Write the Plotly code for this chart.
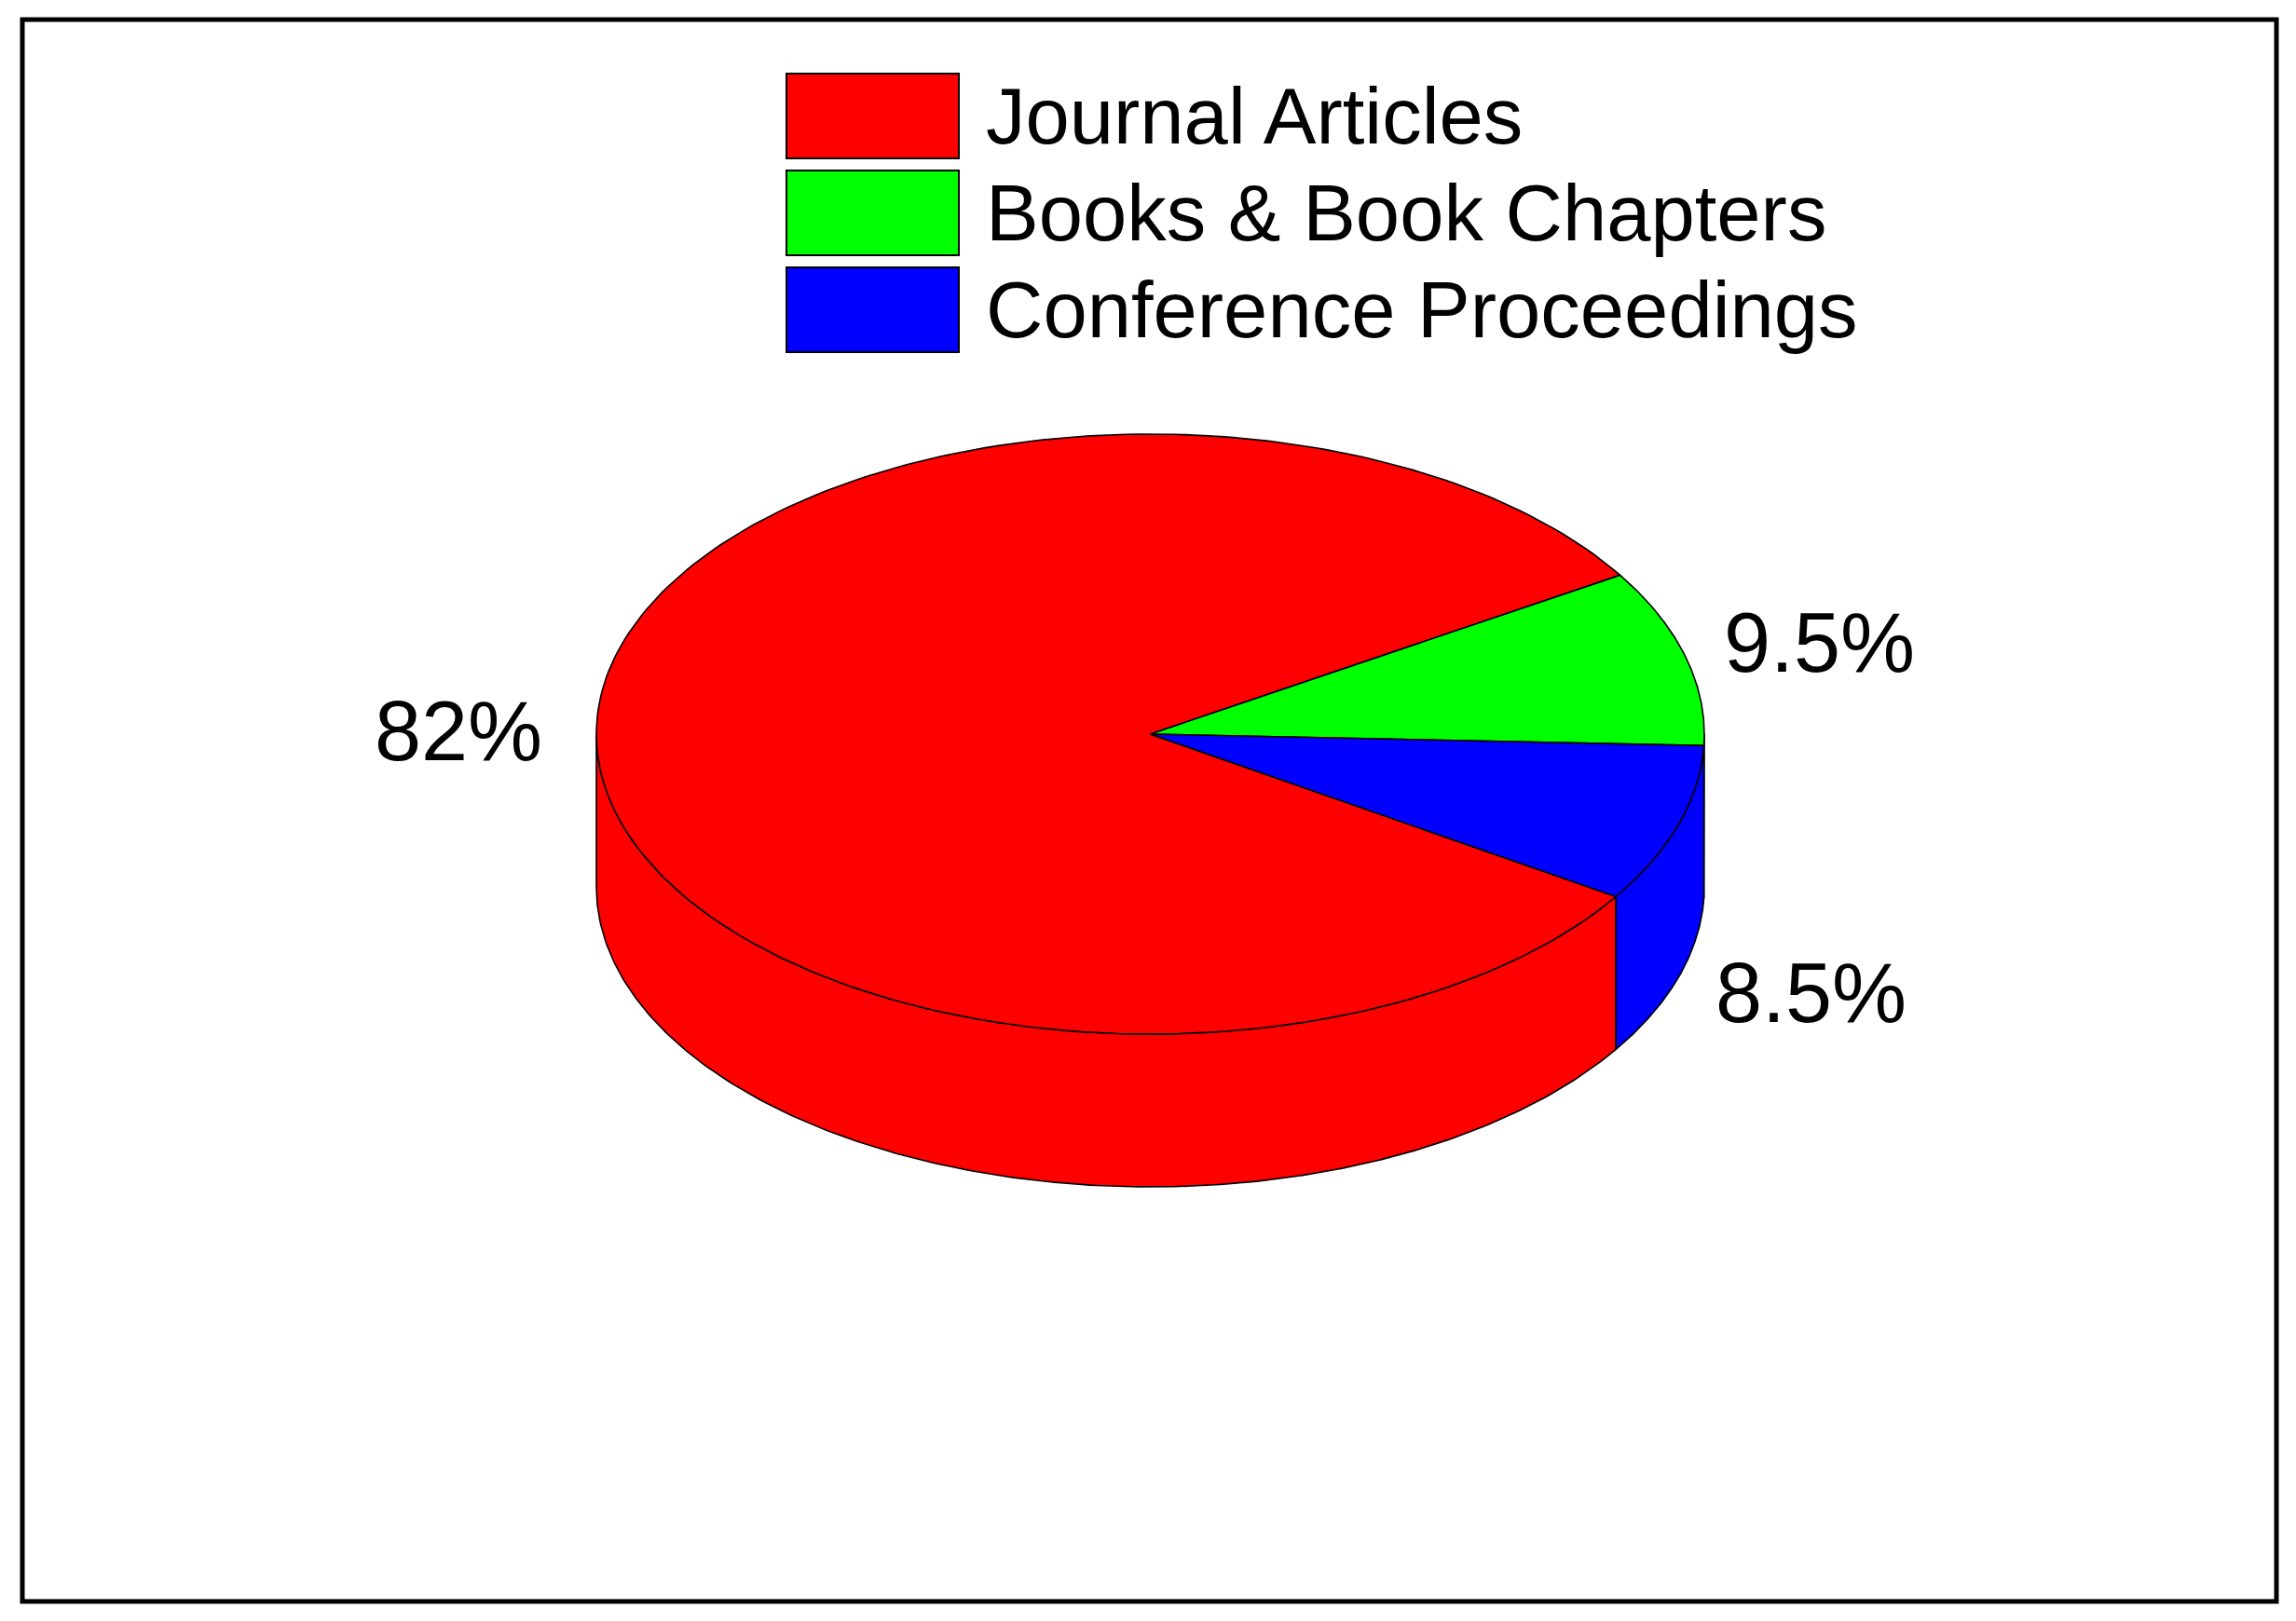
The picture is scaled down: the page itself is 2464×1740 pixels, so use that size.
import numpy as np
import plotly.graph_objects as go

categories = ["Journal Articles", "Books & Book Chapters", "Conference Proceedings"]
shares = [82, 9.5, 8.5]
share_text = ["82%", "9.5%", "8.5%"]
colors = ["#ff0000", "#00ff00", "#0000ff"]

W, H = 2464, 1740
PAGE_PAD = 8  # html body margin, shift axes so coords are page pixels

# pie geometry in pixels (tilted disc)
cx, cy = 1234.5, 788
rx, ry = 594.5, 322
depth = 164
start_angle = -32.8  # degrees, slices run clockwise from here

FONT = "Liberation Sans, Arial, sans-serif"


def rim(t_from, t_to, dy=0, n=240):
    t = np.radians(np.linspace(t_from, t_to, n))
    return cx + rx * np.cos(t), cy - ry * np.sin(t) + dy


total = sum(shares)
spans = [v / total * 360 for v in shares]
edges = start_angle - np.concatenate([[0], np.cumsum(spans)])

fig = go.Figure()

# side walls (only the front half of the disc is visible)
for i, col in enumerate(colors):
    t0, t1 = edges[i], edges[i + 1]
    for k in (-2, -1, 0, 1):
        lo, hi = -180 + 360 * k, 360 * k
        a, b = max(t1, lo), min(t0, hi)
        if b - a > 0.01:
            xt, yt = rim(b, a)
            xb, yb = rim(a, b, depth)
            fig.add_trace(go.Scatter(
                x=np.r_[xt, xb, xt[0]],
                y=np.r_[yt, yb, yt[0]],
                mode="lines",
                fill="toself",
                fillcolor=col,
                line=dict(color="black", width=1.6),
                hoverinfo="skip",
                showlegend=False
            ))

# top faces
for i, col in enumerate(colors):
    t0, t1 = edges[i], edges[i + 1]
    xs, ys = rim(t0, t1)
    fig.add_trace(go.Scatter(
        x=np.r_[cx, xs, cx],
        y=np.r_[cy, ys, cy],
        mode="lines",
        fill="toself",
        fillcolor=col,
        line=dict(color="black", width=1.6),
        name=categories[i],
        hoverinfo="name",
        showlegend=False
    ))

annotations = []

# percentage labels around the pie
for i, txt in enumerate(share_text):
    mid = np.radians((edges[i] + edges[i + 1]) / 2)
    lx = cx + 743 * np.cos(mid)
    ly = cy - 380 * np.sin(mid) + (depth if np.sin(mid) < 0 else 0)
    annotations.append(dict(
        x=lx, y=ly, xref="x", yref="y",
        text=txt, showarrow=False,
        xanchor="center", yanchor="middle",
        font=dict(family=FONT, size=90, color="black")
    ))

# legend drawn by hand (big swatches)
shapes = []
box_x0, box_x1 = 844, 1029
box_top, box_h, box_step = 79, 91, 104
for i, (name, col) in enumerate(zip(categories, colors)):
    y0 = box_top + i * box_step
    shapes.append(dict(
        type="rect", xref="x", yref="y",
        x0=box_x0, x1=box_x1, y0=y0, y1=y0 + box_h,
        fillcolor=col, line=dict(color="black", width=2)
    ))
    annotations.append(dict(
        x=1056, y=y0 + box_h / 2, xref="x", yref="y",
        text=name, showarrow=False,
        xanchor="left", yanchor="middle",
        font=dict(family=FONT, size=85, color="black")
    ))

# outer frame
shapes.append(dict(
    type="rect", xref="x", yref="y",
    x0=24, x1=2443, y0=21, y1=1719,
    line=dict(color="black", width=5),
    fillcolor="rgba(0,0,0,0)"
))

fig.update_layout(
    width=W,
    height=H,
    margin=dict(l=0, r=0, t=0, b=0),
    paper_bgcolor="white",
    plot_bgcolor="white",
    xaxis=dict(range=[PAGE_PAD, W + PAGE_PAD], visible=False, fixedrange=True),
    yaxis=dict(range=[H + PAGE_PAD, PAGE_PAD], visible=False, fixedrange=True),
    shapes=shapes,
    annotations=annotations,
    showlegend=False
)

fig.write_html("out.html")
